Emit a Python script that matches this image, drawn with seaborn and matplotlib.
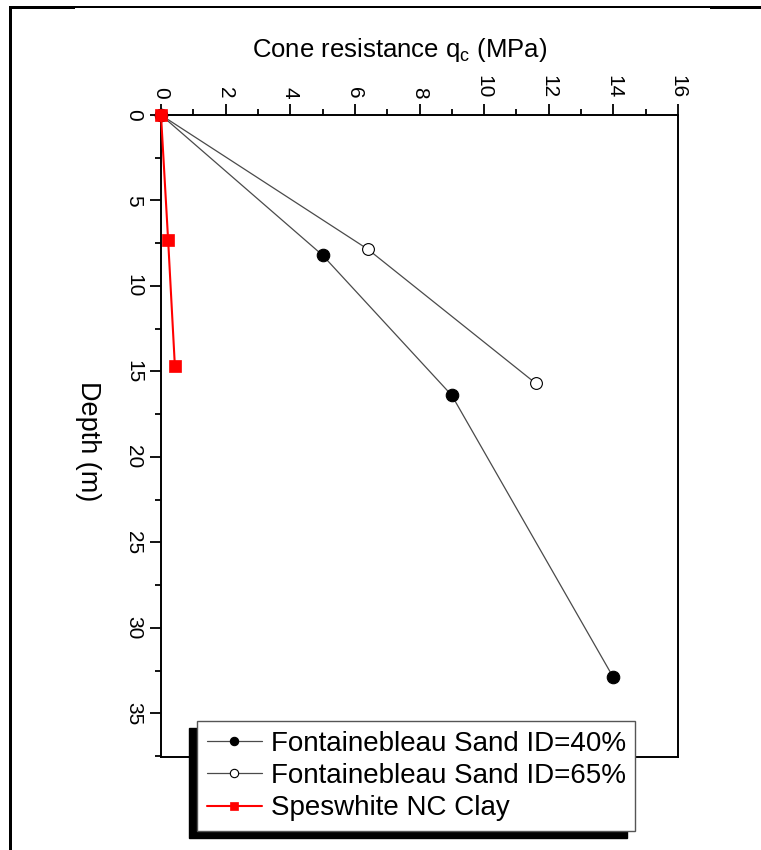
import matplotlib
matplotlib.use("Agg")
import matplotlib.pyplot as plt
from matplotlib.lines import Line2D
from matplotlib.patches import Rectangle
from matplotlib.ticker import MultipleLocator
import seaborn as sns
import pandas as pd

# Cone resistance profiles (qc in MPa against depth in m)
sand40_qc = [0.0, 5.0, 9.0, 14.0]
sand40_depth = [0.0, 8.2, 16.4, 32.9]
sand65_qc = [0.0, 6.4, 11.6]
sand65_depth = [0.0, 7.85, 15.7]
clay_qc = [0.0, 0.22, 0.43]
clay_depth = [0.0, 7.3, 14.7]

labels = ["Fontainebleau Sand ID=40%", "Fontainebleau Sand ID=65%", "Speswhite NC Clay"]
xticks = [0, 2, 4, 6, 8, 10, 12, 14, 16]
yticks = [0, 5, 10, 15, 20, 25, 30, 35]

sns.set_theme(style="white")
plt.rcParams["font.family"] = ["Liberation Sans", "DejaVu Sans"]
plt.rcParams["mathtext.fontset"] = "custom"
plt.rcParams["mathtext.rm"] = "Liberation Sans"

W, H = 761, 850
fig = plt.figure(figsize=(W / 100, H / 100), dpi=100)
fig.patch.set_facecolor("white")
ax = fig.add_axes([161 / W, 1 - 757 / H, (678 - 161) / W, (757 - 115) / H])

d40 = pd.DataFrame({"qc": sand40_qc, "depth": sand40_depth})
d65 = pd.DataFrame({"qc": sand65_qc, "depth": sand65_depth})
dcl = pd.DataFrame({"qc": clay_qc, "depth": clay_depth})

sns.lineplot(data=d40, x="qc", y="depth", sort=False, estimator=None, ax=ax,
             color="#4a4a4a", linewidth=0.9, marker="o", markersize=9,
             markerfacecolor="black", markeredgecolor="black", markeredgewidth=0.8,
             label=labels[0], clip_on=False, zorder=3)
sns.lineplot(data=d65, x="qc", y="depth", sort=False, estimator=None, ax=ax,
             color="#4a4a4a", linewidth=0.9, marker="o", markersize=8.5,
             markerfacecolor="white", markeredgecolor="black", markeredgewidth=0.8,
             label=labels[1], clip_on=False, zorder=3)
sns.lineplot(data=dcl, x="qc", y="depth", sort=False, estimator=None, ax=ax,
             color="#ff0000", linewidth=1.5, marker="s", markersize=8,
             markerfacecolor="#ff0000", markeredgecolor="#ff0000", markeredgewidth=0.5,
             label=labels[2], clip_on=False, zorder=4)

ax.set_xlim(0, 16)
ax.set_ylim(37.55, 0)
ax.set_xlabel("")
ax.set_ylabel("")

ax.xaxis.tick_top()
ax.set_xticks(xticks)
ax.set_yticks(yticks)
ax.xaxis.set_minor_locator(MultipleLocator(1))
ax.yaxis.set_minor_locator(MultipleLocator(2.5))
ax.tick_params(axis="x", which="both", top=True, bottom=False, direction="out",
               color="black", labelsize=15, labelcolor="black", labelrotation=-90, pad=4)
ax.tick_params(axis="y", which="both", left=True, right=False, direction="out",
               color="black", labelsize=15, labelcolor="black", labelrotation=-90, pad=5)
ax.tick_params(which="major", length=8, width=1.3)
ax.tick_params(which="minor", length=4, width=1.3)
for lab in ax.get_yticklabels():
    lab.set_verticalalignment("center")

for s in ax.spines.values():
    s.set_color("black")
    s.set_linewidth(1.4)
    s.set_visible(True)

fig.text(400 / W, 1 - 50 / H, r"Cone resistance q$_\mathregular{c}$ (MPa)",
         fontsize=18.5, ha="center", va="center", color="black")
fig.text(88 / W, 1 - 441 / H, "Depth (m)", fontsize=19.5, rotation=-90,
         ha="center", va="center", color="black")

handles, _ = ax.get_legend_handles_labels()
leg = ax.legend(handles, labels, loc="lower left",
                bbox_to_anchor=(197 / W, 1 - 831 / H), bbox_transform=fig.transFigure,
                fontsize=20, frameon=True, fancybox=False, shadow=False,
                handlelength=2.0, handletextpad=0.3, labelspacing=0.22,
                borderpad=0.35, borderaxespad=0.0, labelcolor="black")
leg.get_frame().set_edgecolor("#555555")
leg.get_frame().set_linewidth(1.0)
leg.get_frame().set_facecolor("white")
leg.get_frame().set_alpha(1.0)
leg.set_zorder(10)
for h in leg.legend_handles:
    h.set_markersize(6)

# solid drop shadow offset to the lower left of the legend box
fig.canvas.draw()
bb = leg.get_window_extent()
shadow = Rectangle((bb.x0 - 8, bb.y0 - 7), bb.width, bb.height, transform=None,
                   facecolor="black", edgecolor="black", zorder=9, clip_on=False)
ax.add_artist(shadow)

# outer frame: only its top and left edges fall inside the canvas
fig.add_artist(Rectangle((10, H - 8), W - 10, 2, transform=None,
                         facecolor="black", edgecolor="none", zorder=20))
fig.add_artist(Rectangle((9, 0), 3, H - 6, transform=None,
                         facecolor="black", edgecolor="none", zorder=21))
fig.add_artist(Rectangle((10, H - 9), 65, 3, transform=None,
                         facecolor="black", edgecolor="none", zorder=21))
fig.add_artist(Rectangle((710, H - 9), W - 710, 3, transform=None,
                         facecolor="black", edgecolor="none", zorder=21))

fig.savefig("out.png", dpi=100, facecolor="white")
